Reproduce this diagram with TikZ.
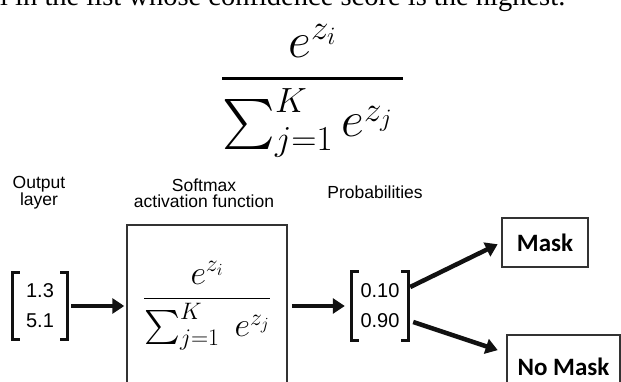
\RequirePackage{fix-cm}
\documentclass[tikz,border=0pt]{standalone}
\usepackage{amsmath,amssymb}
\usepackage{fontspec}
\setmainfont{Liberation Serif}
\newfontfamily\arialfont{Liberation Sans}
\newfontfamily\calibrifont{Carlito}
\usetikzlibrary{arrows.meta,positioning}
\definecolor{inkcol}{HTML}{111111}
\definecolor{boxcol}{HTML}{333333}

\tikzset{
  headlabel/.style={font=\arialfont\fontsize{17.5}{16}\selectfont, align=center, inner sep=0pt},
  vecnode/.style={font=\arialfont\fontsize{20}{30}\selectfont, align=center, inner sep=0pt},
  vecbracket/.style={draw=inkcol, line width=3pt},
  flow/.style={draw=inkcol, line width=4.5pt, -{Triangle[length=12pt,width=15pt]}},
  classbox/.style={draw=boxcol, line width=1.5pt, font=\calibrifont\bfseries\fontsize{25}{25}\selectfont, inner sep=0pt}
}

\begin{document}
\begin{tikzpicture}[x=1pt,y=-1pt]
\useasboundingbox (0,0) rectangle (621,382);
\clip (0,0) rectangle (621,382);
% text cut off at the top and the large formula
\node[anchor=base west, inner sep=0pt, font=\fontsize{28.5}{28.5}\selectfont] (caption) at (0,6) {l in the list whose confidence score is the highest.};
\node[inner sep=0pt, font=\fontsize{50}{50}\selectfont] (bigfrac) at (312.5,91)
  {$\genfrac{}{}{2.8pt}{0}{e^{z_i}}{\sum_{j=1}^{K} e^{z_j}\hspace{10pt}}$};

% headings
\node[headlabel] (outlabel) at (39,193) {Output\\layer};
\node[headlabel] (smlabel) at (204,193) {Softmax\\activation function};
\node[headlabel] (problabel) at (375,192) {Probabilities};

% input vector
\node[vecnode, minimum width=54pt, minimum height=66pt] (outvec) at (40,306) {1.3\\5.1};
\draw[vecbracket] ([xshift=7pt]outvec.north west) -| (outvec.south west) -- ++(7,0);
\draw[vecbracket] ([xshift=-7pt]outvec.north east) -| (outvec.south east) -- ++(-7,0);

% softmax box
\node[draw=boxcol, line width=1.5pt, minimum width=160pt, minimum height=200pt, inner sep=0pt] (smbox) at (207,325) {};
\node[inner sep=0pt, font=\fontsize{34}{34}\selectfont] (smfrac) at (207,306)
  {$\displaystyle\frac{e^{z_i}}{\sum_{j=1}^{K}\; e^{z_j}}$};

% probability vector
\node[vecnode, minimum width=56pt, minimum height=68pt] (probvec) at (380,306) {0.10\\0.90};
\draw[vecbracket] ([xshift=7pt]probvec.north west) -| (probvec.south west) -- ++(7,0);
\draw[vecbracket] ([xshift=-7pt]probvec.north east) -| (probvec.south east) -- ++(-7,0);

% classes
\node[classbox, minimum width=86pt, minimum height=49pt] (mask) at (545,242.5) {Mask};
\node[classbox, minimum width=113pt, minimum height=64pt, text depth=0pt] (nomask) at (563.5,367) {No Mask};

% arrows
\draw[flow, shorten <=4pt, shorten >=2pt] (outvec.east) -- (outvec.east -| smbox.west);
\draw[flow, shorten <=4pt, shorten >=7pt] (smbox.east |- probvec.west) -- (probvec.west);
\draw[flow, shorten >=4pt] ([xshift=2pt,yshift=19pt]probvec.east) -- (mask.west);
\draw[flow, shorten >=9pt] ([xshift=5pt,yshift=-16pt]probvec.east) -- ([yshift=14pt]nomask.west);
\end{tikzpicture}
\end{document}
